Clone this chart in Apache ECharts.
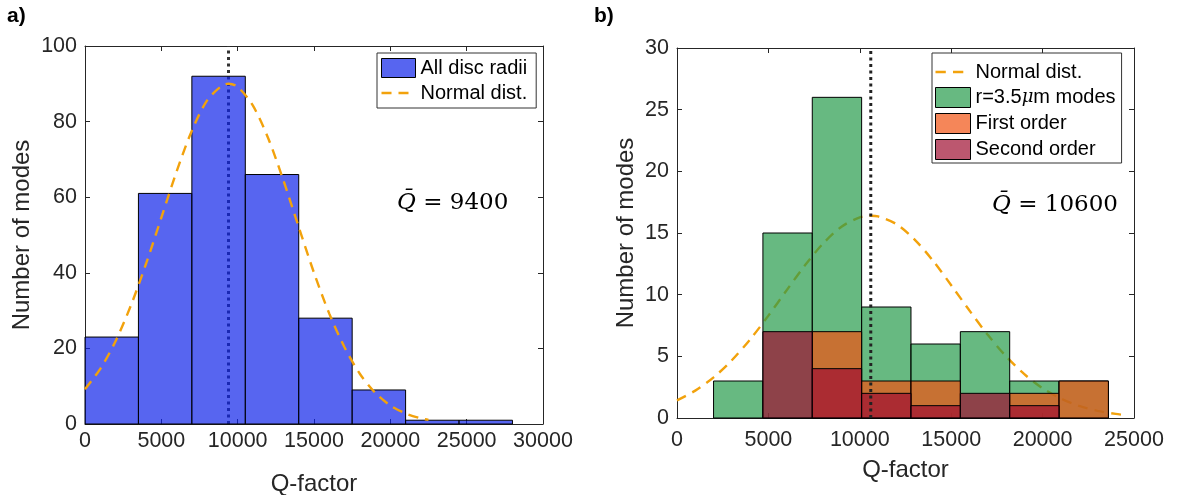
<!DOCTYPE html>
<html>
<head>
<meta charset="utf-8">
<script src="https://cdn.jsdelivr.net/npm/echarts@6/dist/echarts.min.js"></script>
<style>
html,body{margin:0;padding:0;background:#fff;}
#chart{width:1180px;height:495px;}
</style>
</head>
<body>
<div id="chart"></div>
<script>
// ---------- Panel a) data ----------
const edgesA = [0, 3500, 7000, 10500, 14000, 17500, 21000, 24500, 28000];
const countsA = [23, 61, 92, 66, 28, 9, 1, 1];
const meanA = 9400;
const normAX = [0, 1000, 2000, 3000, 4000, 5000, 6000, 7000, 8000, 9000, 9400, 10000, 11000, 12000, 13000, 14000, 15000, 16000, 17000, 18000, 19000, 20000, 21000, 22000, 22500];
const normAY = [9.2, 14.6, 21.9, 31.3, 42.4, 54.6, 66.8, 77.6, 85.6, 89.6, 90, 89.2, 84.2, 75.6, 64.4, 52.1, 40.0, 29.2, 20.3, 13.3, 8.3, 4.9, 2.8, 1.5, 1.1];
const xTicksA = [0, 30000, 5000];
const yTicksA = [0, 100, 20];

// ---------- Panel b) data ----------
const edgesB = [2000, 4700, 7400, 10100, 12800, 15500, 18200, 20900, 23600];
const countsB_all = [3, 15, 26, 9, 6, 7, 3, 3];
const countsB_first = [0, 0, 7, 3, 3, 0, 2, 3];
const countsB_second = [0, 7, 4, 2, 1, 2, 1, 0];
const meanB = 10600;
const normBX = [0, 1000, 2000, 3000, 4000, 5000, 6000, 7000, 8000, 9000, 10000, 10600, 11000, 12000, 13000, 14000, 15000, 16000, 17000, 18000, 19000, 20000, 21000, 22000, 23000, 24000, 24600];
const normBY = [1.43, 2.22, 3.29, 4.68, 6.37, 8.30, 10.36, 12.38, 14.16, 15.51, 16.27, 16.4, 16.34, 15.72, 14.47, 12.76, 10.77, 8.71, 6.74, 5.00, 3.55, 2.41, 1.57, 0.98, 0.58, 0.33, 0.23];
const xTicksB = [0, 25000, 5000];
const yTicksB = [0, 30, 5];

// ---------- names ----------
const nameAll = 'All disc radii';
const nameNorm = 'Normal dist.';
const nameR = 'r=3.5μm modes';
const nameFirst = 'First order';
const nameSecond = 'Second order';
const xTitle = 'Q-factor';
const yTitle = 'Number of modes';

// ---------- styles ----------
const FONT = 'Liberation Sans, Arial, Helvetica, sans-serif';
const AXC = '#262626';
const cBlue = 'rgba(16,36,234,0.7)';
const cGreen = 'rgba(38,155,76,0.7)';
const cOrange = 'rgba(241,82,19,0.7)';
const cRed = 'rgba(159,16,50,0.7)';
const cNorm = '#F2A20C';
// dashed-line legend icon (two dashes, bounding box padded to full icon height)
const dashIcon = 'path://M0,0L0,0ZM0,8.3L10,8.3L10,10.7L0,10.7ZM17,8.3L27,8.3L27,10.7L17,10.7ZM34,19L34,19Z';

function binData(edges, counts) {
  const out = [];
  for (let i = 0; i < counts.length; i++) {
    if (counts[i] > 0) out.push([edges[i], edges[i + 1], counts[i]]);
  }
  return out;
}
function pairs(xs, ys) { return xs.map((x, i) => [x, ys[i]]); }

function makeRender(fill) {
  return function (params, api) {
    const x0 = api.value(0), x1 = api.value(1), y = api.value(2);
    const p0 = api.coord([x0, y]);
    const p1 = api.coord([x1, 0]);
    return {
      type: 'rect',
      shape: { x: p0[0], y: p0[1], width: p1[0] - p0[0], height: p1[1] - p0[1] },
      style: { fill: fill, stroke: '#000', lineWidth: 1 }
    };
  };
}

const plainNum = v => String(v);

function xAx(grid, ticks, pos, showLabel, labelMargin, name, nameGap) {
  return {
    type: 'value', gridIndex: grid, position: pos,
    min: ticks[0], max: ticks[1], interval: ticks[2],
    axisLine: { show: true, onZero: false, lineStyle: { color: AXC, width: 1 } },
    axisTick: { show: true, inside: true, length: 5, lineStyle: { color: AXC } },
    axisLabel: { show: showLabel, margin: labelMargin, color: AXC, fontSize: 21.5, fontFamily: FONT, formatter: plainNum },
    splitLine: { show: false },
    name: name, nameLocation: 'middle', nameGap: nameGap,
    nameTextStyle: { color: AXC, fontSize: 24, fontFamily: FONT }
  };
}
function yAx(grid, ticks, pos, showLabel, name, nameGap) {
  return {
    type: 'value', gridIndex: grid, position: pos,
    min: ticks[0], max: ticks[1], interval: ticks[2],
    axisLine: { show: true, onZero: false, lineStyle: { color: AXC, width: 1 } },
    axisTick: { show: true, inside: true, length: 5, lineStyle: { color: AXC } },
    axisLabel: { show: showLabel, margin: 8, color: AXC, fontSize: 21.5, fontFamily: FONT, formatter: plainNum },
    splitLine: { show: false },
    name: name, nameLocation: 'middle', nameGap: nameGap,
    nameTextStyle: { color: AXC, fontSize: 24, fontFamily: FONT }
  };
}

const legendText = {
  color: '#000', fontSize: 20, fontFamily: FONT, lineHeight: 20,
  rich: { mu: { fontStyle: 'italic', fontFamily: 'DejaVu Serif', fontSize: 18, color: '#000' } }
};
function legendFormatter(name) {
  if (name === nameR) return 'r=3.5{mu|μ}m modes';
  return name;
}
const normLegendItem = { name: nameNorm, icon: dashIcon, itemStyle: { color: cNorm, borderWidth: 0 } };

const option = {
  animation: false,
  backgroundColor: '#fff',
  grid: [
    { left: 85, top: 46, width: 458, height: 378, outerBoundsMode: 'none', containLabel: false },
    { left: 677, top: 48, width: 457, height: 370, outerBoundsMode: 'none', containLabel: false }
  ],
  xAxis: [
    xAx(0, xTicksA, 'bottom', true, 6, xTitle, 48),
    xAx(0, xTicksA, 'top', false, 4, '', 0),
    xAx(1, xTicksB, 'bottom', true, 11, xTitle, 40),
    xAx(1, xTicksB, 'top', false, 4, '', 0)
  ],
  yAxis: [
    yAx(0, yTicksA, 'left', true, yTitle, 51),
    yAx(0, yTicksA, 'right', false, '', 0),
    yAx(1, yTicksB, 'left', true, yTitle, 39),
    yAx(1, yTicksB, 'right', false, '', 0)
  ],
  legend: [
    {
      orient: 'vertical', left: 377, top: 53,
      padding: [5, 9, 5, 4], itemGap: 5, itemWidth: 34, itemHeight: 19,
      backgroundColor: '#fff', borderColor: '#333', borderWidth: 1,
      textStyle: legendText, formatter: legendFormatter,
      data: [
        { name: nameAll, icon: 'rect', itemStyle: { color: cBlue, borderColor: '#000', borderWidth: 1 } },
        normLegendItem
      ]
    },
    {
      orient: 'vertical', left: 932, top: 53,
      padding: [9, 6, 3, 3], itemGap: 5, itemWidth: 35, itemHeight: 20,
      backgroundColor: '#fff', borderColor: '#333', borderWidth: 1,
      textStyle: legendText, formatter: legendFormatter,
      data: [
        normLegendItem,
        { name: nameR, icon: 'rect', itemStyle: { color: cGreen, borderColor: '#000', borderWidth: 1 } },
        { name: nameFirst, icon: 'rect', itemStyle: { color: cOrange, borderColor: '#000', borderWidth: 1 } },
        { name: nameSecond, icon: 'rect', itemStyle: { color: cRed, borderColor: '#000', borderWidth: 1 } }
      ]
    }
  ],
  graphic: [
    { type: 'text', left: 7, top: 6, style: { text: 'a)', font: 'bold 21px ' + FONT, fill: '#000' } },
    { type: 'text', left: 594, top: 6, style: { text: 'b)', font: 'bold 21px ' + FONT, fill: '#000' } },
    { type: 'text', left: 397, top: 192, style: {
        text: '{q|Q̄} = 9400', font: '23px DejaVu Serif', fill: '#000',
        rich: { q: { fontStyle: 'italic', fontFamily: 'DejaVu Serif', fontSize: 23 } } } },
    { type: 'text', left: 992, top: 194, style: {
        text: '{q|Q̄} = 10600', font: '23px DejaVu Serif', fill: '#000',
        rich: { q: { fontStyle: 'italic', fontFamily: 'DejaVu Serif', fontSize: 23 } } } }
  ],
  series: [
    // ---- panel a ----
    {
      name: 'meanA', type: 'line', xAxisIndex: 0, yAxisIndex: 0, z: 1,
      data: [[meanA, yTicksA[0]], [meanA, yTicksA[1]]], symbol: 'none', silent: true,
      lineStyle: { color: '#333', width: 3, type: [3, 3.5] }
    },
    {
      name: nameAll, type: 'custom', xAxisIndex: 0, yAxisIndex: 0, z: 2,
      renderItem: makeRender(cBlue), itemStyle: { color: cBlue },
      encode: { x: [0, 1], y: 2 }, data: binData(edgesA, countsA)
    },
    {
      name: nameNorm, type: 'line', xAxisIndex: 0, yAxisIndex: 0, z: 3,
      data: pairs(normAX, normAY), symbol: 'none', smooth: 0.3,
      itemStyle: { color: cNorm },
      lineStyle: { color: cNorm, width: 2.4, type: [10, 7] }
    },
    // ---- panel b ----
    {
      name: nameNorm, type: 'line', xAxisIndex: 2, yAxisIndex: 2, z: 1,
      data: pairs(normBX, normBY), symbol: 'none', smooth: 0.3,
      itemStyle: { color: cNorm },
      lineStyle: { color: cNorm, width: 2.4, type: [10, 7] }
    },
    {
      name: nameR, type: 'custom', xAxisIndex: 2, yAxisIndex: 2, z: 2,
      renderItem: makeRender(cGreen), itemStyle: { color: cGreen },
      encode: { x: [0, 1], y: 2 }, data: binData(edgesB, countsB_all)
    },
    {
      name: nameFirst, type: 'custom', xAxisIndex: 2, yAxisIndex: 2, z: 2,
      renderItem: makeRender(cOrange), itemStyle: { color: cOrange },
      encode: { x: [0, 1], y: 2 }, data: binData(edgesB, countsB_first)
    },
    {
      name: nameSecond, type: 'custom', xAxisIndex: 2, yAxisIndex: 2, z: 2,
      renderItem: makeRender(cRed), itemStyle: { color: cRed },
      encode: { x: [0, 1], y: 2 }, data: binData(edgesB, countsB_second)
    },
    {
      name: 'meanB', type: 'line', xAxisIndex: 2, yAxisIndex: 2, z: 3,
      data: [[meanB, yTicksB[0]], [meanB, yTicksB[1]]], symbol: 'none', silent: true,
      lineStyle: { color: '#222', width: 3, type: [3, 3.5] }
    }
  ]
};

const chart = echarts.init(document.getElementById('chart'), null, { renderer: 'canvas' });
chart.setOption(option);
</script>
</body>
</html>
